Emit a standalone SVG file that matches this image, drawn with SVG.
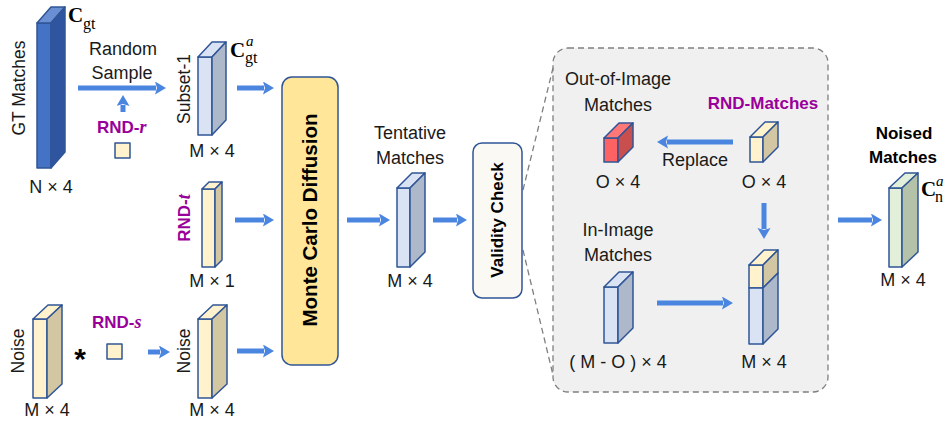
<svg xmlns="http://www.w3.org/2000/svg" width="947" height="426" viewBox="0 0 947 426">
<defs>
<style>
.t{font-family:"Liberation Sans",Arial,sans-serif;font-size:18px;fill:#1a1a1a;text-anchor:middle}
.tv{font-family:"Liberation Sans",Arial,sans-serif;font-size:17.5px;fill:#1a1a1a;text-anchor:middle}
.b{font-family:"Liberation Sans",Arial,sans-serif;font-weight:bold;fill:#000;text-anchor:middle}
.p{font-family:"Liberation Sans",Arial,sans-serif;font-weight:bold;font-size:17px;fill:#990099}
.pi{font-family:"Liberation Serif","Times New Roman",serif;font-style:italic;font-weight:bold}
.m{font-family:"Liberation Serif","Times New Roman",serif;fill:#000}
.ed{stroke:#2F5597;stroke-width:1.5;stroke-linejoin:round}
.dk{fill:#4472C4}.dkt{fill:#6A8FD3}.dks{fill:#2F55A0}
.lb{fill:#DAE3F3}.lbs{fill:#ADB9CA}
.yl{fill:#FFF2CC}.yls{fill:#D3C7A3}
.rd{fill:#FF6262}.rdt{fill:#FF7777}.rds{fill:#C94E4E}
.gr{fill:#E2EFDA}.grs{fill:#B4C2AA}
.ar{stroke:#4A85E0;stroke-width:5;fill:none}
.dash{stroke:#7F7F7F;stroke-width:1.3;stroke-dasharray:6,4;fill:none}
</style>
<marker id="ah" markerUnits="userSpaceOnUse" markerWidth="12" markerHeight="14" refX="1" refY="6.5" orient="auto">
<path d="M0,0 L11,6.5 L0,13 L2,6.5 Z" fill="#4A85E0"/>
</marker>
</defs>

<g id="zoom-region">
<rect x="553" y="48" width="275" height="344" rx="15" fill="#F0F0F0" stroke="#7F7F7F" stroke-width="1.3" stroke-dasharray="6,4"/>
<line class="dash" x1="523" y1="190" x2="553" y2="68"/>
<line class="dash" x1="523" y1="250" x2="553" y2="375"/>
</g>

<g id="gt-matches">
<rect class="dk ed" x="37" y="23" width="14" height="145"/>
<polygon class="dkt ed" points="37,23 51,7 65,7 51,23"/>
<polygon class="dks ed" points="51,23 65,7 65,152 51,168"/>
<text class="tv" transform="translate(19,88) rotate(-90)" x="0" y="6">GT Matches</text>
<text class="t" x="51" y="193">N × 4</text>
<text class="m" x="68" y="22" font-size="21" font-weight="bold">C</text>
<text class="m" x="83" y="29" font-size="16">gt</text>
</g>

<g id="random-sample">
<text class="t" x="123" y="55">Random</text>
<text class="t" x="122" y="79">Sample</text>
</g>

<g id="rnd-r">
<text class="p" x="97" y="133">RND-<tspan class="pi" font-size="18">r</tspan></text>
<rect class="yl ed" x="115" y="143" width="15" height="15"/>
</g>

<g id="subset-1">
<rect class="lb ed" x="198" y="57" width="14" height="78"/>
<polygon class="lb ed" points="198,57 212,42 226,42 212,57"/>
<polygon class="lbs ed" points="212,57 226,42 226,120 212,135"/>
<text class="tv" transform="translate(184,89) rotate(-90)" x="0" y="6">Subset-1</text>
<text class="t" x="212" y="157">M × 4</text>
<text class="m" x="230" y="57" font-size="21" font-weight="bold">C</text>
<text class="m" x="246" y="46" font-size="15" font-style="italic">a</text>
<text class="m" x="245" y="63" font-size="16">gt</text>
</g>

<g id="rnd-t">
<rect class="yl ed" x="202" y="189" width="13" height="78"/>
<polygon class="yl ed" points="202,189 209,182 222,182 215,189"/>
<polygon class="yls ed" points="215,189 222,182 222,260 215,267"/>
<text class="p" transform="translate(184,218) rotate(-90)" x="0" y="6" text-anchor="middle">RND-<tspan class="pi" font-size="18">t</tspan></text>
<text class="t" x="212" y="287">M × 1</text>
</g>

<g id="noise-in">
<rect class="yl ed" x="33" y="319" width="14" height="79"/>
<polygon class="yl ed" points="33,319 48,305 62,305 47,319"/>
<polygon class="yls ed" points="47,319 62,305 62,384 47,398"/>
<text class="tv" transform="translate(18,351) rotate(-90)" x="0" y="6">Noise</text>
<text class="t" x="47" y="416">M × 4</text>
<text class="b" x="80" y="369" font-size="30">*</text>
</g>

<g id="rnd-s">
<text class="p" x="92" y="328">RND-<tspan class="pi" font-size="18">s</tspan></text>
<rect class="yl ed" x="107" y="344" width="15" height="15"/>
</g>

<g id="noise-out">
<rect class="yl ed" x="198" y="319" width="14" height="79"/>
<polygon class="yl ed" points="198,319 213,305 227,305 212,319"/>
<polygon class="yls ed" points="212,319 227,305 227,384 212,398"/>
<text class="tv" transform="translate(184,351) rotate(-90)" x="0" y="6">Noise</text>
<text class="t" x="212" y="416">M × 4</text>
</g>

<g id="monte-carlo">
<rect x="282" y="77" width="56" height="288" rx="10" fill="#FFE699" stroke="#2F5597" stroke-width="1.5"/>
<text class="b" font-size="20.5" transform="translate(310,220) rotate(-90)" x="0" y="7">Monte Carlo Diffusion</text>
</g>

<g id="tentative">
<text class="t" x="410" y="139">Tentative</text>
<text class="t" x="410" y="164">Matches</text>
<rect class="lb ed" x="397" y="188" width="13" height="79"/>
<polygon class="lb ed" points="397,188 412,173 425,173 410,188"/>
<polygon class="lbs ed" points="410,188 425,173 425,252 410,267"/>
<text class="t" x="410" y="287">M × 4</text>
</g>

<g id="validity">
<rect x="473" y="143" width="49" height="155" rx="9" fill="#FBF9F4" stroke="#2F5597" stroke-width="1.5"/>
<text class="b" font-size="17" transform="translate(497,220) rotate(-90)" x="0" y="6">Validity Check</text>
</g>

<g id="out-of-image">
<text class="t" x="618" y="85">Out-of-Image</text>
<text class="t" x="618" y="111">Matches</text>
<rect class="rd ed" x="604" y="138" width="14" height="24"/>
<polygon class="rdt ed" points="604,138 619,123 633,123 618,138"/>
<polygon class="rds ed" points="618,138 633,123 633,147 618,162"/>
<text class="t" x="618" y="188">O × 4</text>
</g>

<g id="rnd-matches">
<text class="p" x="763" y="109" text-anchor="middle">RND-Matches</text>
<rect class="yl ed" x="750" y="137" width="13" height="25"/>
<polygon class="yl ed" points="750,137 765,122 778,122 763,137"/>
<polygon class="yls ed" points="763,137 778,122 778,147 763,162"/>
<text class="t" x="764" y="188">O × 4</text>
<text class="t" x="695" y="166">Replace</text>
</g>

<g id="in-image">
<text class="t" x="618" y="236">In-Image</text>
<text class="t" x="618" y="261">Matches</text>
<rect class="lb ed" x="604" y="287" width="14" height="56"/>
<polygon class="lb ed" points="604,287 619,272 633,272 618,287"/>
<polygon class="lbs ed" points="618,287 633,272 633,328 618,343"/>
<text class="t" x="618" y="368">( M - O ) × 4</text>
</g>

<g id="merged">
<rect class="yl ed" x="749" y="265" width="14" height="23"/>
<rect class="lb ed" x="749" y="288" width="14" height="56"/>
<polygon class="yl ed" points="749,265 764,250 778,250 763,265"/>
<polygon class="yls ed" points="763,265 778,250 778,273 763,288"/>
<polygon class="lbs ed" points="763,288 778,273 778,329 763,344"/>
<text class="t" x="764" y="368">M × 4</text>
</g>

<g id="noised">
<text class="b" font-size="17" x="904" y="139">Noised</text>
<text class="b" font-size="17" x="903" y="163">Matches</text>
<rect class="gr ed" x="889" y="188" width="13" height="79"/>
<polygon class="gr ed" points="889,188 905,173 918,173 902,188"/>
<polygon class="grs ed" points="902,188 918,173 918,252 902,267"/>
<text class="t" x="903" y="286">M × 4</text>
<text class="m" x="921" y="196" font-size="21" font-weight="bold">C</text>
<text class="m" x="936" y="186" font-size="15" font-style="italic">a</text>
<text class="m" x="935" y="202" font-size="16">n</text>
</g>

<g id="connectors">
<line class="ar" x1="78" y1="88" x2="156" y2="88" marker-end="url(#ah)"/>
<line class="ar" x1="123" y1="112" x2="123" y2="105" stroke-width="4" marker-end="url(#ah)"/>
<line class="ar" x1="237" y1="88" x2="264" y2="88" marker-end="url(#ah)"/>
<line class="ar" x1="235" y1="220" x2="264" y2="220" marker-end="url(#ah)"/>
<line class="ar" x1="148" y1="352" x2="160" y2="352" marker-end="url(#ah)"/>
<line class="ar" x1="237" y1="351" x2="264" y2="351" marker-end="url(#ah)"/>
<line class="ar" x1="347" y1="220" x2="380" y2="220" marker-end="url(#ah)"/>
<line class="ar" x1="433" y1="220" x2="457" y2="220" marker-end="url(#ah)"/>
<line class="ar" x1="733" y1="142" x2="667" y2="142" marker-end="url(#ah)"/>
<line class="ar" x1="764" y1="203" x2="764" y2="229" marker-end="url(#ah)"/>
<line class="ar" x1="657" y1="303" x2="723" y2="303" marker-end="url(#ah)"/>
<line class="ar" x1="838" y1="220" x2="872" y2="220" marker-end="url(#ah)"/>
</g>
</svg>
